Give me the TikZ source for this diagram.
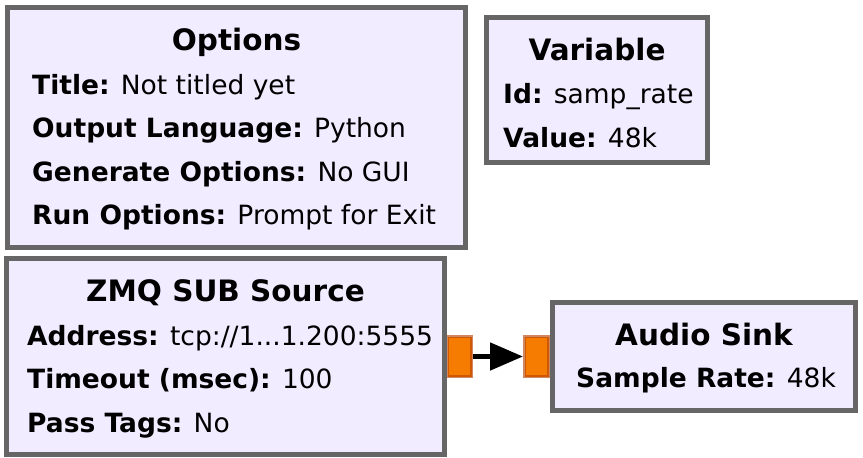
\documentclass[tikz,border=0pt]{standalone}
\usepackage{fontspec}
\setmainfont{DejaVu Sans}
\usetikzlibrary{arrows.meta}

\definecolor{grcborder}{RGB}{102,102,102}
\definecolor{grcfill}{RGB}{241,236,255}
\definecolor{grcfloat}{RGB}{245,124,0}
\definecolor{grcport}{RGB}{185,70,10}

\newcommand{\blktitle}{\fontsize{29.5}{33}\selectfont\bfseries}
\newcommand{\blkparam}{\fontsize{26.5}{31}\selectfont}

\tikzset{
  blk/.style={draw=grcborder, line width=5pt, fill=grcfill, rectangle, inner sep=0pt},
  ttl/.style={anchor=base, inner sep=0pt, font=\blktitle},
  prm/.style={anchor=base west, inner sep=0pt, font=\blkparam},
  port/.style={draw=grcport, draw opacity=0.65, line width=3pt, fill=grcfloat,
    rectangle, inner sep=0pt, minimum width=24pt, minimum height=40pt},
  conn/.style={line width=5pt, -{Triangle[length=33pt,width=27pt]}}
}

\begin{document}
\begin{tikzpicture}[x=1pt, y=-1pt]
  \useasboundingbox (0,0) rectangle (863,458);

  % ports sit under the block borders
  \node[port] (zmqout) at (459.5,356.5) {};
  \node[port] (sinkin) at (536.5,356.5) {};

  % blocks
  \node[blk, minimum width=458pt, minimum height=240pt] (opts) at (236.5,127.5) {};
  \node[blk, minimum width=221pt, minimum height=145pt] (var) at (597,90) {};
  \node[blk, minimum width=438pt, minimum height=196pt] (zmq) at (225.5,356.5) {};
  \node[blk, minimum width=303pt, minimum height=108pt] (sink) at (704,356.5) {};

  % Options
  \node[ttl] (optsT) at (236.5,50) {Options};
  \node[prm] (opts1) at (32,94) {\textbf{Title:} Not titled yet};
  \node[prm] (opts2) at (32,137.5) {\textbf{Output Language:} Python};
  \node[prm] (opts3) at (32,181) {\textbf{Generate Options:} No GUI};
  \node[prm] (opts4) at (32,224) {\textbf{Run Options:} Prompt for Exit};

  % Variable
  \node[ttl] (varT) at (597,60) {Variable};
  \node[prm] (var1) at (503,103) {\textbf{Id:} samp\_rate};
  \node[prm] (var2) at (503,147) {\textbf{Value:} 48k};

  % ZMQ SUB Source
  \node[ttl] (zmqT) at (225.5,301) {ZMQ SUB Source};
  \node[prm] (zmq1) at (27,345) {\textbf{Address:} tcp://1...1.200:5555};
  \node[prm] (zmq2) at (27,388) {\textbf{Timeout (msec):} 100};
  \node[prm] (zmq3) at (27,432) {\textbf{Pass Tags:} No};

  % Audio Sink
  \node[ttl] (sinkT) at (704,345) {Audio Sink};
  \node[prm] (sink1) at (576,387) {\textbf{Sample Rate:} 48k};

  \draw[conn] (zmqout.east) -- (sinkin.west);
\end{tikzpicture}
\end{document}
